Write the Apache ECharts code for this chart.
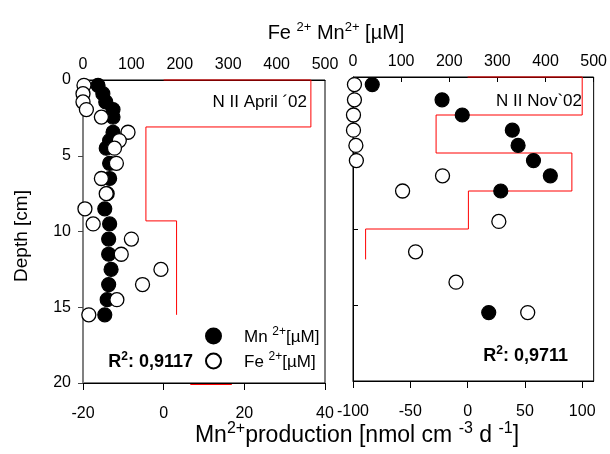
<!DOCTYPE html>
<html>
<head>
<meta charset="utf-8">
<script src="https://cdn.jsdelivr.net/npm/echarts@6/dist/echarts.min.js"></script>
<style>
  html, body { margin: 0; padding: 0; background: #fff; }
  #chart { width: 610px; height: 454px; }
</style>
</head>
<body>
<div id="chart"></div>
<script>
// ---- N II April '02 core ----
const aprilDepth = [0.35, 0.9, 1.45, 1.95, 2.45, 3.45, 4.0, 4.5, 5.5, 6.5, 7.5, 8.5, 9.5, 10.5, 11.5, 12.5, 13.5, 14.5, 15.5];
const aprilMn = [31, 41, 47, 62, 62, 62, 55, 48, 55, 55, 50, 45, 55, 53, 53, 58, 53, 50, 45];
const aprilFe = [2, 0, 0, 7, 38, 93, 75, 65, 69, 38, 48, 4, 21, 100, 79, 161, 123, 70, 12];
// Mn2+ production profile: layer boundaries (cm) and rate per layer
const aprilProdDepth = [0, 3.1, 9.3, 15.5];
const aprilProd = [36.5, -4.4, 3.2];
const aprilBaseX = [6.6, 16.9];
const aprilBaseDepth = 20.1;

// ---- N II Nov '02 core ----
const novFeDepth = [0.5, 1.5, 2.5, 3.5, 4.5, 5.5, 6.5, 7.5, 9.5, 11.5, 13.5, 15.5];
const novFe = [3, 3, 1, 1, 6, 7, 186, 103, 303, 130, 214, 363];
const novMnDepth = [0.5, 1.5, 2.5, 3.5, 4.5, 5.5, 6.5, 7.5, 15.5];
const novMn = [40, 185, 227, 331, 343, 375, 410, 307, 282];
const novProdDepth = [0, 2.5, 5, 7.5, 10, 12];
const novProd = [100, -27.5, 91, 0.7, -89];

// Axis ticks
const concTicks = [0, 100, 200, 300, 400, 500];
const aprilProdTicks = [-20, 0, 20, 40];
const novProdTicks = [-100, -50, 0, 50, 100];

const FONT = "'Liberation Sans', Arial, sans-serif";

function pairs(xs, ys) { return xs.map((x, i) => [x, ys[i]]); }
// step profile: starts at zero on the surface, then one vertical run per layer
function stepProfile(bounds, rates) {
  const pts = [[0, bounds[0]]];
  rates.forEach((r, i) => { pts.push([r, bounds[i]]); pts.push([r, bounds[i + 1]]); });
  return pts;
}

const chart = echarts.init(document.getElementById('chart'), null, { renderer: 'canvas' });

const labelStyle = { color: '#000', fontSize: 16, fontFamily: FONT };
const filled = { color: '#000', borderColor: '#000', borderWidth: 1.2, opacity: 1 };
const hollow = { color: '#fff', borderColor: '#000', borderWidth: 1.3, opacity: 1 };

const option = {
  animation: false,
  backgroundColor: '#fff',
  textStyle: { fontFamily: FONT },
  grid: [
    { left: 83, top: 80, width: 242, height: 303, show: true, borderColor: '#000', borderWidth: 1 },
    { left: 353, top: 77, width: 242, height: 304, show: true, borderColor: '#000', borderWidth: 1 }
  ],
  yAxis: [
    {
      gridIndex: 0, type: 'value', inverse: true, min: 0, max: 20, interval: 5,
      axisLine: { show: true, lineStyle: { color: '#808080', width: 1 } },
      axisTick: { show: true, inside: false, length: 5, lineStyle: { color: '#444' } },
      axisLabel: Object.assign({ margin: 12 }, labelStyle),
      splitLine: { show: false }
    },
    {
      gridIndex: 1, type: 'value', inverse: true, min: 0, max: 20, interval: 5,
      axisLine: { show: true, lineStyle: { color: '#000', width: 1 } },
      axisTick: { show: true, inside: true, length: 5, lineStyle: { color: '#000' } },
      axisLabel: { show: false },
      splitLine: { show: false }
    }
  ],
  xAxis: [
    {
      gridIndex: 0, type: 'value', position: 'top', min: 0, max: 500, interval: 100,
      axisLine: { show: true, lineStyle: { color: '#000' } },
      axisTick: { show: false },
      axisLabel: Object.assign({ margin: 7, customValues: concTicks }, labelStyle),
      splitLine: { show: false }
    },
    {
      gridIndex: 0, type: 'value', position: 'bottom', min: -20, max: 40, interval: 20,
      axisLine: { show: true, lineStyle: { color: '#000' } },
      axisTick: { show: true, length: 7, lineStyle: { color: '#000' }, customValues: aprilProdTicks },
      axisLabel: Object.assign({ margin: 23, customValues: aprilProdTicks }, labelStyle),
      splitLine: { show: false }
    },
    {
      gridIndex: 1, type: 'value', position: 'top', min: 0, max: 500, interval: 100,
      axisLine: { show: true, lineStyle: { color: '#000' } },
      axisTick: { show: true, inside: true, length: 5, lineStyle: { color: '#000' }, customValues: concTicks },
      axisLabel: Object.assign({ margin: 7, customValues: concTicks }, labelStyle),
      splitLine: { show: false }
    },
    {
      gridIndex: 1, type: 'value', position: 'bottom', min: -100, max: 110, interval: 50,
      axisLine: { show: true, lineStyle: { color: '#000' } },
      axisTick: { show: true, length: 7, lineStyle: { color: '#000' }, customValues: novProdTicks },
      axisLabel: Object.assign({ margin: 23, customValues: novProdTicks }, labelStyle),
      splitLine: { show: false }
    }
  ],
  legend: {
    orient: 'vertical', left: 205, top: 326, padding: 0, itemWidth: 15, itemHeight: 15, itemGap: 5,
    icon: 'circle', selectedMode: false, data: ['Mn', 'Fe'],
    formatter: name => '{n|' + name + ' }{s|2+}{n|[µM]}',
    textStyle: {
      color: '#000', fontFamily: FONT, padding: [0, 0, 0, 18],
      rich: {
        n: { fontSize: 17, fontFamily: FONT, color: '#000', lineHeight: 20, verticalAlign: 'bottom' },
        s: { fontSize: 12, fontFamily: FONT, color: '#000', lineHeight: 12, verticalAlign: 'top' }
      }
    }
  },
  series: [
    {
      name: 'aprilProd', type: 'line', xAxisIndex: 1, yAxisIndex: 0,
      data: stepProfile(aprilProdDepth, aprilProd), showSymbol: false, symbol: 'none',
      lineStyle: { color: '#ff0000', width: 1 }, z: 3, clip: false, silent: true
    },
    {
      name: 'aprilBase', type: 'line', xAxisIndex: 1, yAxisIndex: 0,
      data: aprilBaseX.map(x => [x, aprilBaseDepth]), showSymbol: false, symbol: 'none',
      lineStyle: { color: '#ff0000', width: 1 }, z: 3, clip: false, silent: true
    },
    {
      name: 'Mn', type: 'scatter', xAxisIndex: 0, yAxisIndex: 0,
      data: pairs(aprilMn, aprilDepth), symbol: 'circle', symbolSize: 14,
      itemStyle: filled, z: 4, clip: false
    },
    {
      name: 'Fe', type: 'scatter', xAxisIndex: 0, yAxisIndex: 0,
      data: pairs(aprilFe, aprilDepth), symbol: 'circle', symbolSize: 14,
      itemStyle: hollow, z: 5, clip: false
    },
    {
      name: 'novProd', type: 'line', xAxisIndex: 3, yAxisIndex: 1,
      data: stepProfile(novProdDepth, novProd), showSymbol: false, symbol: 'none',
      lineStyle: { color: '#ff0000', width: 1 }, z: 3, clip: false, silent: true
    },
    {
      name: 'Mn', type: 'scatter', xAxisIndex: 2, yAxisIndex: 1,
      data: pairs(novMn, novMnDepth), symbol: 'circle', symbolSize: 14,
      itemStyle: filled, z: 4, clip: false
    },
    {
      name: 'Fe', type: 'scatter', xAxisIndex: 2, yAxisIndex: 1,
      data: pairs(novFe, novFeDepth), symbol: 'circle', symbolSize: 14,
      itemStyle: hollow, z: 5, clip: false
    }
  ],
  graphic: [
    {
      type: 'text', x: 336, y: 32,
      style: {
        text: '{n|Fe }{s|2+}{n| Mn}{s|2+}{n| [µM]}', align: 'center', verticalAlign: 'middle',
        rich: {
          n: { fontSize: 20, fontFamily: FONT, fill: '#000', lineHeight: 22, verticalAlign: 'bottom' },
          s: { fontSize: 13, fontFamily: FONT, fill: '#000', lineHeight: 13, verticalAlign: 'top' }
        }
      }
    },
    {
      type: 'text', x: 22, y: 236, rotation: Math.PI / 2,
      style: { text: 'Depth [cm]', font: '19px ' + FONT, fill: '#000', align: 'center', verticalAlign: 'middle' }
    },
    {
      type: 'text', x: 307, y: 102,
      style: { text: 'N II April ´02', font: '17px ' + FONT, fill: '#000', align: 'right', verticalAlign: 'middle' }
    },
    {
      type: 'text', x: 582, y: 101,
      style: { text: 'N II Nov`02', font: '17px ' + FONT, fill: '#000', align: 'right', verticalAlign: 'middle' }
    },
    {
      type: 'text', x: 193, y: 361,
      style: {
        text: '{b|R}{s|2}{b|: 0,9117}', align: 'right', verticalAlign: 'middle',
        rich: {
          b: { fontSize: 18, fontWeight: 'bold', fontFamily: FONT, fill: '#000', lineHeight: 20, verticalAlign: 'bottom' },
          s: { fontSize: 12, fontWeight: 'bold', fontFamily: FONT, fill: '#000', lineHeight: 12, verticalAlign: 'top' }
        }
      }
    },
    {
      type: 'text', x: 568, y: 355,
      style: {
        text: '{b|R}{s|2}{b|: 0,9711}', align: 'right', verticalAlign: 'middle',
        rich: {
          b: { fontSize: 18, fontWeight: 'bold', fontFamily: FONT, fill: '#000', lineHeight: 20, verticalAlign: 'bottom' },
          s: { fontSize: 12, fontWeight: 'bold', fontFamily: FONT, fill: '#000', lineHeight: 12, verticalAlign: 'top' }
        }
      }
    },
    {
      type: 'text', x: 357, y: 434,
      style: {
        text: '{n|Mn}{s|2+}{n|production [nmol cm }{s|-3}{n| d }{s|-1}{n|]}', align: 'center', verticalAlign: 'middle',
        rich: {
          n: { fontSize: 23, fontFamily: FONT, fill: '#000', lineHeight: 26, verticalAlign: 'bottom' },
          s: { fontSize: 16, fontFamily: FONT, fill: '#000', lineHeight: 16, verticalAlign: 'top' }
        }
      }
    }
  ]
};

chart.setOption(option);
</script>
</body>
</html>
